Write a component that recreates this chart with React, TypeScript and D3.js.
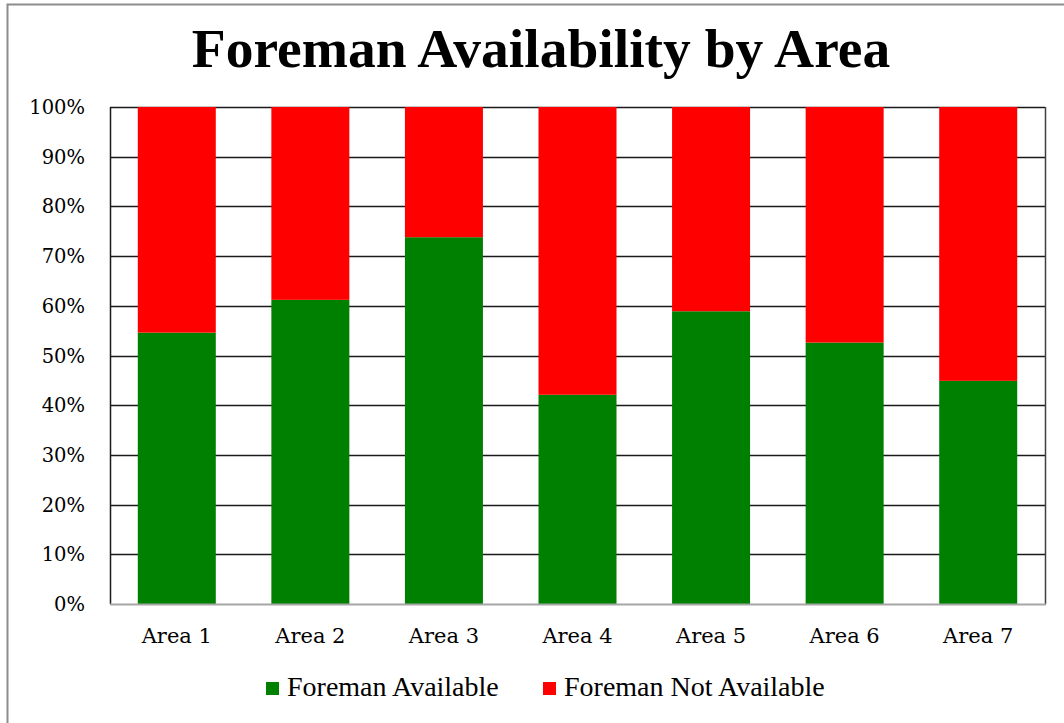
import React, { useEffect, useRef } from "react";
import * as d3 from "d3";

const categories = ["Area 1", "Area 2", "Area 3", "Area 4", "Area 5", "Area 6", "Area 7"];
const available = [54.6, 61.2, 73.8, 42.1, 58.9, 52.6, 44.9];
const notAvailable = available.map((v) => 100 - v);
const seriesNames = ["Foreman Available", "Foreman Not Available"];
const seriesColors = ["#008000", "#ff0000"];
const yTicks = [0, 10, 20, 30, 40, 50, 60, 70, 80, 90, 100];

const AXIS_FONT = "Georgia, 'DejaVu Serif', serif";
const TEXT_FONT = "'Times New Roman', 'Liberation Serif', serif";

export default function App() {
  const ref = useRef<SVGSVGElement>(null);

  useEffect(() => {
    const svg = d3.select(ref.current);
    svg.selectAll("*").remove();

    const W = 1064;
    const H = 723;
    const margin = { top: 107, right: 19, bottom: 119, left: 110 };
    const width = W - margin.left - margin.right;
    const height = H - margin.top - margin.bottom;

    // outer chart border (only top and left are visible in the crop)
    svg.append("rect")
      .attr("x", 7.5)
      .attr("y", 4.5)
      .attr("width", W + 20)
      .attr("height", H + 20)
      .attr("fill", "#fff")
      .attr("stroke", "#8c8c8c")
      .attr("stroke-width", 2);

    svg.append("text")
      .attr("x", 541)
      .attr("y", 67)
      .attr("text-anchor", "middle")
      .style("font-family", TEXT_FONT)
      .style("font-size", "55.5px")
      .style("font-weight", "bold")
      .attr("fill", "#000")
      .text("Foreman Availability by Area");

    const g = svg.append("g").attr("transform", `translate(${margin.left},${margin.top})`);

    const x = d3.scaleBand().domain(categories).range([0, width]).paddingInner(0.416).paddingOuter(0.208);
    const y = d3.scaleLinear().domain([0, 100]).range([height, 0]);

    // gridlines
    g.selectAll(".grid")
      .data(yTicks.filter((t) => t > 0))
      .enter()
      .append("line")
      .attr("x1", 0)
      .attr("x2", width)
      .attr("y1", (d) => Math.round(y(d)) + 0.5)
      .attr("y2", (d) => Math.round(y(d)) + 0.5)
      .attr("stroke", "#1a1a1a")
      .attr("stroke-width", 1.5);

    const rows = categories.map((c, i) => ({ cat: c, a: available[i], n: notAvailable[i] }));
    const stacked = d3.stack<any>().keys(["a", "n"])(rows);

    g.selectAll(".series")
      .data(stacked)
      .enter()
      .append("g")
      .attr("fill", (d, i) => seriesColors[i])
      .selectAll("rect")
      .data((d) => d)
      .enter()
      .append("rect")
      .attr("x", (d) => x(d.data.cat)!)
      .attr("width", x.bandwidth())
      .attr("y", (d) => y(d[1]))
      .attr("height", (d) => y(d[0]) - y(d[1]));

    // left axis line and right border
    g.append("line")
      .attr("x1", 0.5).attr("x2", 0.5).attr("y1", 0).attr("y2", height)
      .attr("stroke", "#1a1a1a").attr("stroke-width", 1.5);
    g.append("line")
      .attr("x1", width + 0.5).attr("x2", width + 0.5).attr("y1", 0).attr("y2", height)
      .attr("stroke", "#404040").attr("stroke-width", 1.5);
    // bottom axis
    g.append("line")
      .attr("x1", 0).attr("x2", width + 1).attr("y1", height + 0.5).attr("y2", height + 0.5)
      .attr("stroke", "#a6a6a6").attr("stroke-width", 2);

    // y tick labels
    g.selectAll(".ylab")
      .data(yTicks)
      .enter()
      .append("text")
      .attr("x", -25)
      .attr("y", (d) => y(d) + 7)
      .attr("text-anchor", "end")
      .style("font-family", AXIS_FONT)
      .style("font-size", "19.5px")
      .attr("fill", "#000")
      .text((d) => `${d}%`);

    // category labels
    g.selectAll(".xlab")
      .data(categories)
      .enter()
      .append("text")
      .attr("x", (d) => x(d)! + x.bandwidth() / 2)
      .attr("y", height + 39)
      .attr("text-anchor", "middle")
      .style("font-family", AXIS_FONT)
      .style("font-size", "21px")
      .attr("fill", "#000")
      .text((d) => d);

    // legend
    const legendX = [266, 543];
    const legend = svg.selectAll(".leg")
      .data(seriesNames)
      .enter()
      .append("g")
      .attr("transform", (d, i) => `translate(${legendX[i]},${682})`);
    legend.append("rect")
      .attr("width", 13)
      .attr("height", 13)
      .attr("y", 0)
      .attr("fill", (d, i) => seriesColors[i]);
    legend.append("text")
      .attr("x", 21)
      .attr("y", 14)
      .style("font-family", TEXT_FONT)
      .style("font-size", "28px")
      .attr("fill", "#000")
      .text((d) => d);
  }, []);

  return (
    <svg
      ref={ref}
      width={1064}
      height={723}
      style={{ position: "absolute", left: 0, top: 0, background: "#fff" }}
    />
  );
}
